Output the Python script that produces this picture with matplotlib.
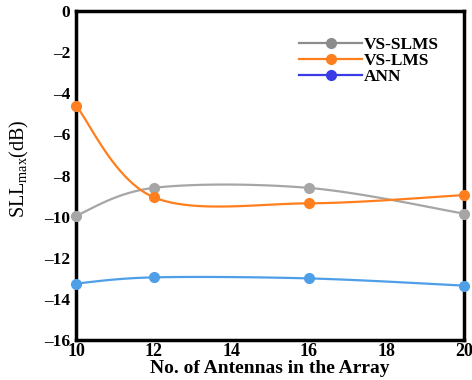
import numpy as np
import matplotlib
matplotlib.use('Agg')
import matplotlib.pyplot as plt
from matplotlib.lines import Line2D

# data
antennas = [10, 12, 16, 20]
vs_slms = [-9.95, -8.6, -8.6, -9.85]
vs_lms = [-4.6, -9.05, -9.35, -8.95]
ann = [-13.25, -12.95, -13.0, -13.35]
labels = ['VS-SLMS', 'VS-LMS', 'ANN']
line_colors = ['#a6a6a6', '#ff7f1e', '#4f9fe8']
legend_colors = ['#8c8c8c', '#ff7f1e', '#3a3ae6']
xticks = [10, 12, 14, 16, 18, 20]
yticks = [0, -2, -4, -6, -8, -10, -12, -14, -16]

plt.rcParams['font.family'] = 'Liberation Serif'


def smooth(x, y, n=40):
    # Excel-like smoothed line: cubic bezier with Catmull-Rom control points
    x = np.asarray(x, float)
    y = np.asarray(y, float)
    px = np.concatenate([[x[0]], x, [x[-1]]])
    py = np.concatenate([[y[0]], y, [y[-1]]])
    xs, ys = [], []
    t = np.linspace(0, 1, n)
    for i in range(1, len(x)):
        p0 = np.array([px[i], py[i]])
        p3 = np.array([px[i + 1], py[i + 1]])
        c1 = p0 + (p3 - np.array([px[i - 1], py[i - 1]])) / 6
        c2 = p3 - (np.array([px[i + 2], py[i + 2]]) - p0) / 6
        b = ((1 - t) ** 3)[:, None] * p0 + (3 * (1 - t) ** 2 * t)[:, None] * c1 \
            + (3 * (1 - t) * t ** 2)[:, None] * c2 + (t ** 3)[:, None] * p3
        xs.extend(b[:, 0])
        ys.extend(b[:, 1])
    return xs, ys


fig = plt.figure(figsize=(4.72, 3.80), dpi=100)
ax = fig.add_axes([0.161, 0.105, 0.822, 0.866])

for series, c in zip([vs_slms, vs_lms, ann], line_colors):
    sx, sy = smooth(antennas, series)
    ax.plot(sx, sy, color=c, lw=1.6, zorder=2)
    ax.plot(antennas, series, 'o', color=c, ms=7, zorder=3, clip_on=False)

ax.set_xlim(10, 20)
ax.set_ylim(-16, 0)
ax.set_xticks(xticks)
ax.set_yticks(yticks)
ax.set_xticklabels([str(v) for v in xticks], fontweight='bold', fontsize=13)
ax.set_yticklabels([str(v).replace('-', '–') for v in yticks], fontweight='bold', fontsize=12.5)
ax.tick_params(length=0, pad=4)
ax.tick_params(axis='x', pad=2)
for s in ax.spines.values():
    s.set_linewidth(2.5)

ax.set_xlabel('No. of Antennas in the Array', fontweight='bold', fontsize=14, labelpad=0)
ax.set_ylabel(r'SLL$_{\mathregular{max}}$(dB)', fontsize=14.5)
ax.yaxis.set_label_coords(-0.115, 0.52)

handles = [Line2D([0], [0], color=c, lw=1.6, marker='o', ms=7) for c in legend_colors]
leg = ax.legend(handles, labels, loc='upper right', bbox_to_anchor=(0.975, 0.97),
                frameon=False, handlelength=3.6, handletextpad=0.1,
                labelspacing=0.0, prop={'weight': 'bold', 'size': 12.5})

fig.savefig('out.png', dpi=100)
